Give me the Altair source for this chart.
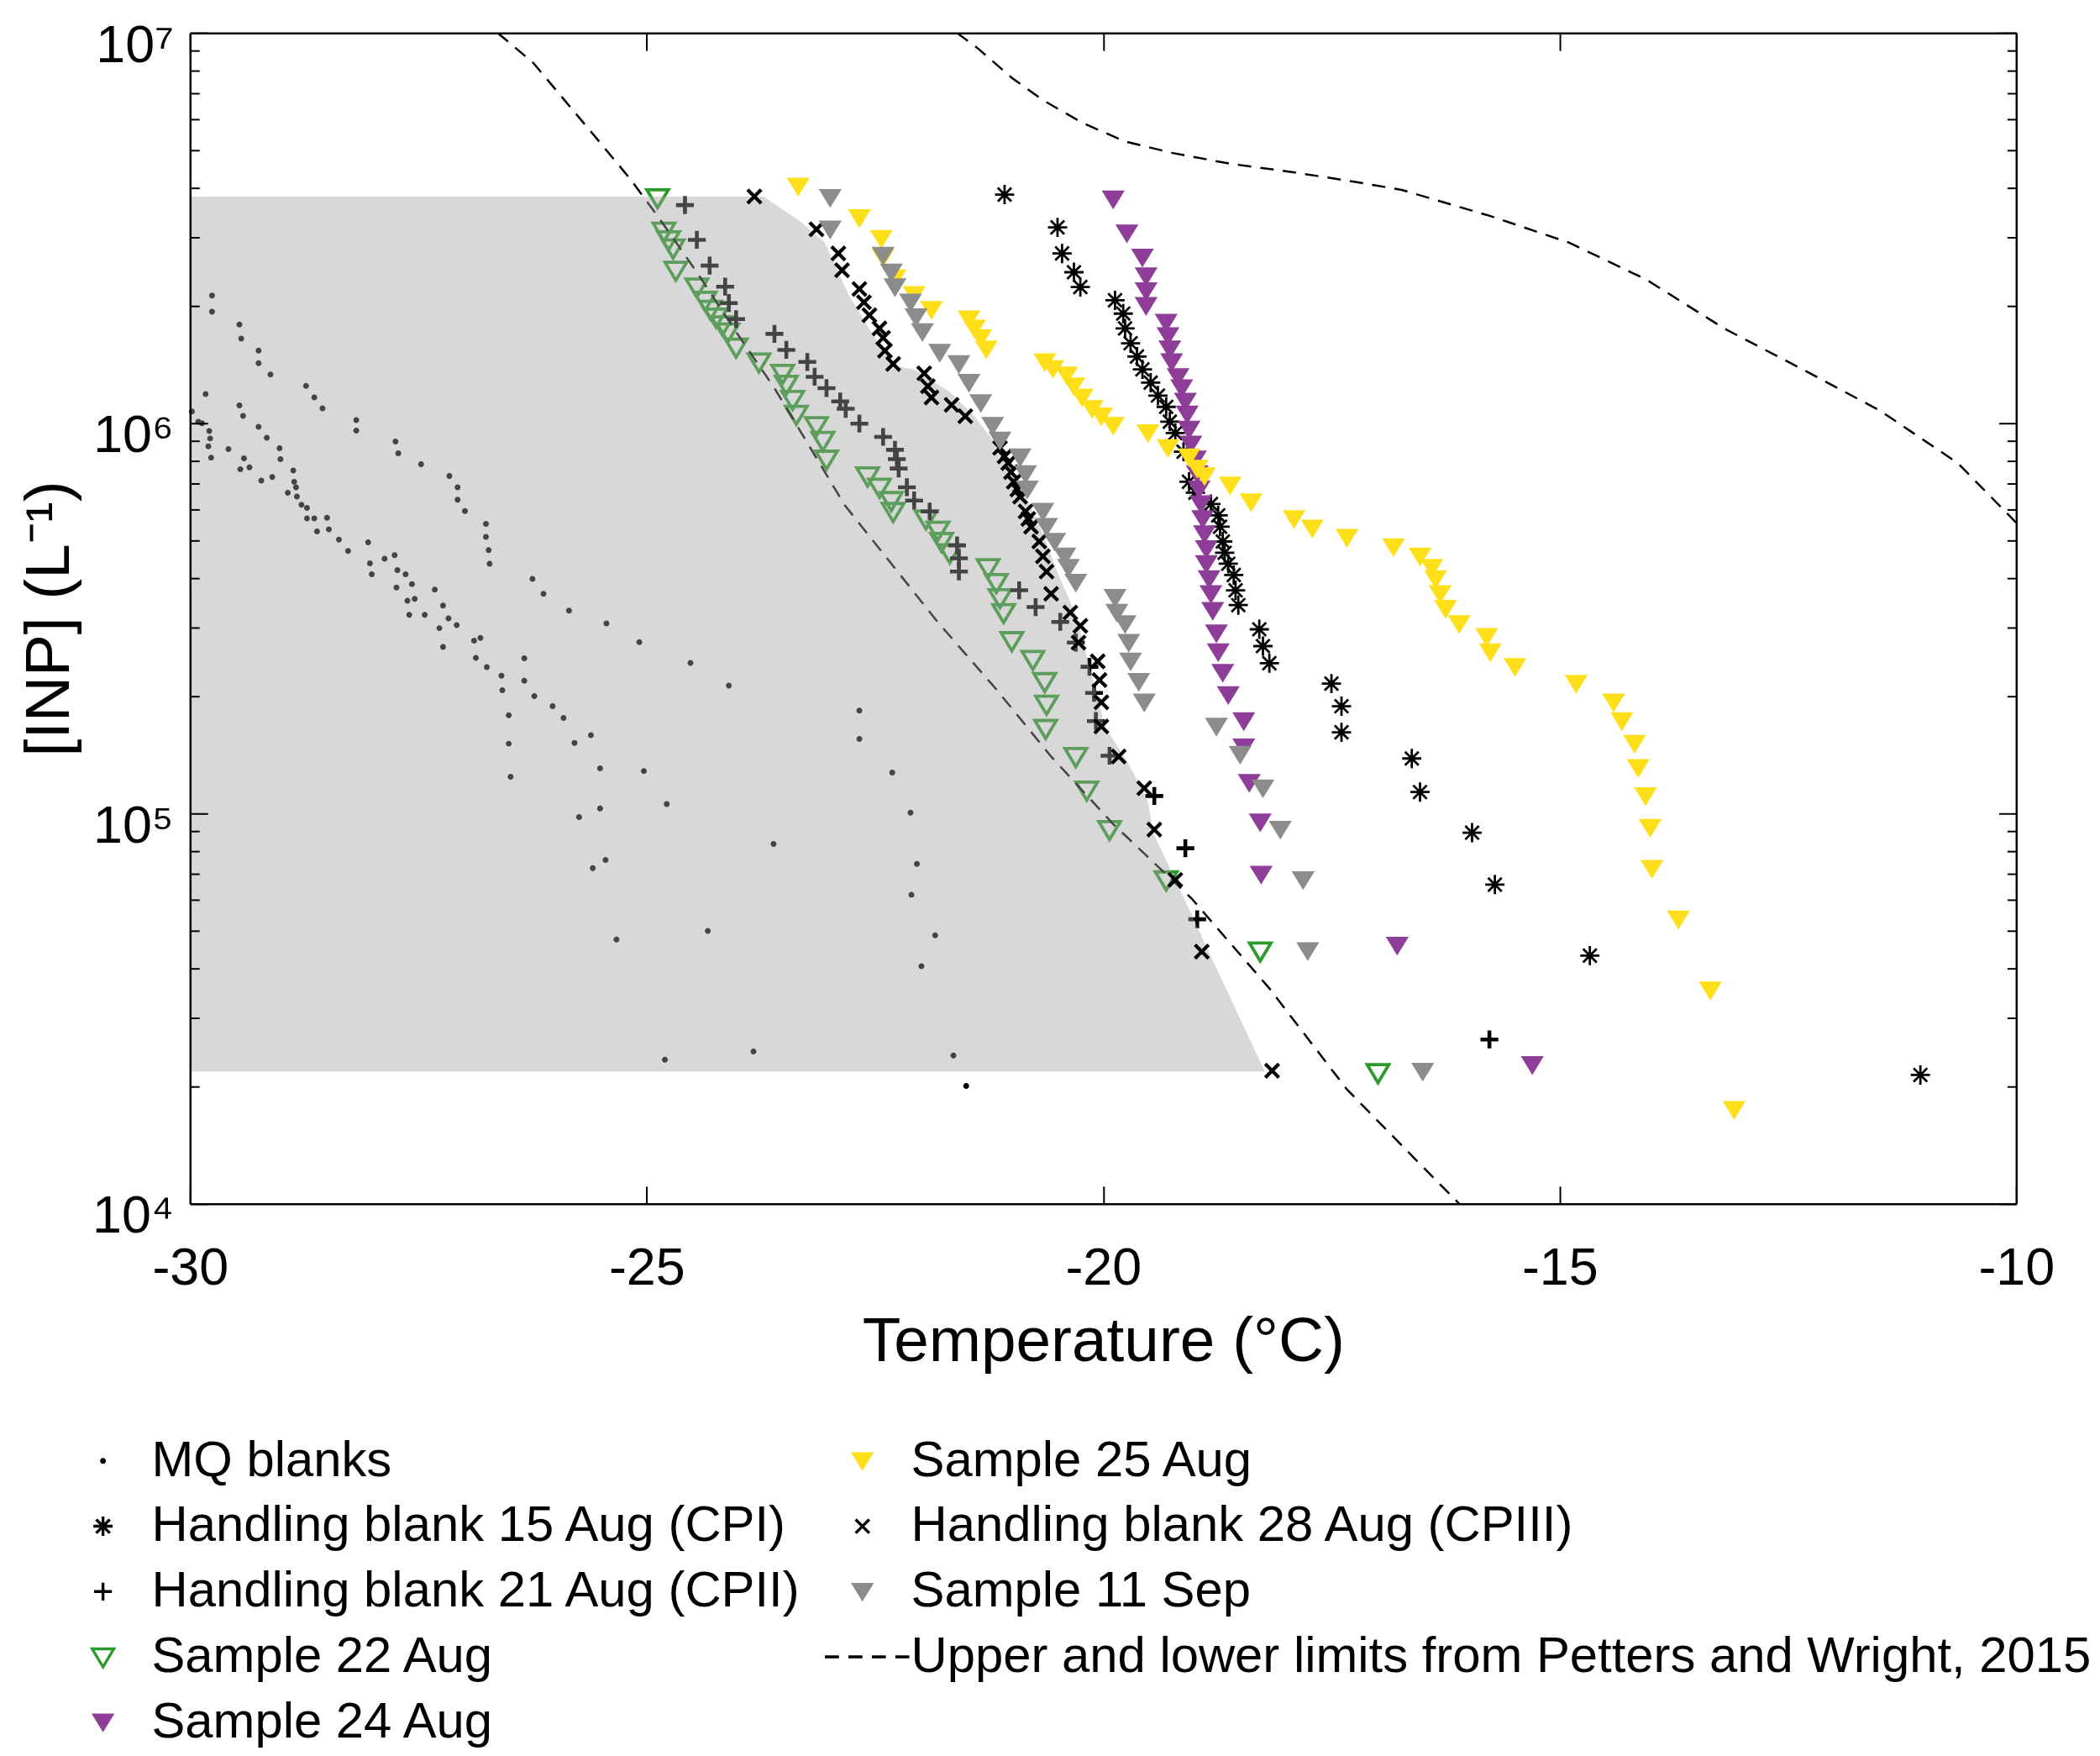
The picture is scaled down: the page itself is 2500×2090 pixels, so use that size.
import altair as alt
import numpy as np
import pandas as pd

FONT = "Liberation Sans"

# ---------------- data (temperature in degC, log10 of [INP] in L-1) ----------------
mq_t = [-29.76, -29.76, -29.46, -29.44, -29.25, -29.25, -29.12, -29.83, -28.73, -28.64, -28.55, -29.46, -29.42,
        -29.98, -29.91, -29.87, -29.79, -29.78, -29.80, -29.77, -29.58, -29.25, -29.16, -29.41, -29.35, -29.45,
        -29.22, -29.10, -29.02, -29.01, -28.87, -28.86, -28.84, -28.93, -28.83, -28.78, -28.72, -28.72, -28.64,
        -28.61, -28.50, -28.48, -28.37, -28.27, -28.18, -28.18, -27.75, -27.72, -27.47, -27.16, -27.07, -27.07,
        -26.99, -26.76, -26.76, -26.73, -26.72, -28.05, -28.03, -28.01, -27.87, -27.76, -27.73, -27.64, -27.57,
        -27.74, -27.62, -27.54, -27.60, -27.43, -27.32, -27.23, -26.25, -26.13, -25.85,
        -27.27, -27.17, -27.08, -27.23, -26.89, -26.82, -26.87, -26.75, -26.59, -26.58, -26.34, -26.34, -26.23,
        -26.03, -25.91, -26.51, -26.51, -26.49, -25.79, -25.61, -25.51, -25.51, -25.74, -25.59, -25.45, -25.44,
        -25.08, -24.52, -24.10, -25.03, -24.78, -23.61, -25.33, -24.33, -24.80, -23.83,
        -22.67, -22.67, -22.31, -22.11, -22.04, -22.10, -21.84, -21.99, -21.64, -21.50]
mq_log = [6.327, 6.286, 6.253, 6.217, 6.186, 6.154, 6.125, 6.075, 6.096, 6.066, 6.038, 6.046, 6.019,
          6.030, 6.004, 6.000, 5.980, 5.961, 5.941, 5.912, 5.934, 5.991, 5.963, 5.910, 5.887, 5.882,
          5.853, 5.862, 5.936, 5.908, 5.879, 5.850, 5.836, 5.822, 5.812, 5.791, 5.783, 5.756, 5.756,
          5.723, 5.758, 5.728, 5.702, 5.673, 6.008, 5.981, 5.953, 5.923, 5.895, 5.865, 5.836, 5.804,
          5.775, 5.742, 5.709, 5.675, 5.640, 5.695, 5.641, 5.613, 5.653, 5.662, 5.624, 5.613, 5.588,
          5.579, 5.545, 5.550, 5.509, 5.509, 5.574, 5.533, 5.601, 5.563, 5.520,
          5.475, 5.500, 5.483, 5.427, 5.443, 5.450, 5.399, 5.375, 5.353, 5.316, 5.398, 5.340, 5.301,
          5.275, 5.245, 5.252, 5.179, 5.094, 5.181, 5.201, 5.116, 5.013, 4.991, 4.860, 4.881, 5.487,
          5.439, 5.386, 5.328, 5.109, 5.024, 4.922, 4.677, 4.699, 4.369, 4.390,
          5.264, 5.191, 5.105, 5.002, 4.871, 4.792, 4.688, 4.609, 4.380, 4.302]

hb15_t = [-21.08, -20.50, -20.45, -20.32, -20.25, -19.87, -19.78, -19.76, -19.70, -19.63, -19.57, -19.48, -19.40,
          -19.31, -19.27, -19.21, -19.12, -19.06, -18.99, -18.82, -18.74, -18.72, -18.69, -18.67, -18.63, -18.57,
          -18.55, -18.52, -18.29, -18.25, -18.18, -17.50, -17.39, -17.39, -16.62, -16.53, -15.96, -15.71, -14.67,
          -11.05]
hb15_log = [6.586, 6.502, 6.435, 6.387, 6.349, 6.315, 6.281, 6.243, 6.205, 6.171, 6.138, 6.104, 6.071,
            6.042, 6.004, 5.975, 5.927, 5.850, 5.822, 5.793, 5.764, 5.735, 5.697, 5.668, 5.640, 5.611,
            5.572, 5.534, 5.472, 5.429, 5.385, 5.333, 5.275, 5.208, 5.141, 5.055, 4.951, 4.818, 4.636,
            4.330]

hb21_t = [-24.58, -24.45, -24.31, -24.14, -24.10, -24.02, -23.60, -23.47, -23.24, -23.16, -23.03, -22.88, -22.82,
          -22.67, -22.41, -22.28, -22.26, -22.24, -22.15, -22.07, -21.90, -21.60, -21.58, -21.58, -20.92, -20.74,
          -20.47, -20.30, -20.15, -20.10, -20.08, -19.93, -19.44, -19.10, -18.97, -15.77]
hb21_log = [6.559, 6.470, 6.404, 6.350, 6.308, 6.267, 6.229, 6.188, 6.157, 6.119, 6.090, 6.056, 6.037,
            5.999, 5.965, 5.932, 5.908, 5.884, 5.836, 5.802, 5.774, 5.687, 5.654, 5.620, 5.572, 5.529,
            5.491, 5.438, 5.376, 5.309, 5.237, 5.148, 5.045, 4.911, 4.729, 4.421]

s22_t = [-24.88, -24.81, -24.76, -24.71, -24.68, -24.45, -24.36, -24.30, -24.24, -24.17, -24.11, -24.02, -23.77,
         -23.51, -23.47, -23.40, -23.36, -23.14, -23.07, -23.03, -22.58, -22.45, -22.32, -22.30, -21.94, -21.81,
         -21.77, -21.68, -21.26, -21.17, -21.13, -21.09, -21.00, -20.77, -20.64, -20.62, -20.63, -20.30, -20.18,
         -19.93, -19.31, -18.28, -16.99]
s22_log = [6.578, 6.492, 6.470, 6.449, 6.392, 6.349, 6.315, 6.292, 6.272, 6.252, 6.234, 6.195, 6.157,
           6.128, 6.100, 6.061, 6.023, 5.994, 5.956, 5.908, 5.865, 5.836, 5.802, 5.774, 5.755, 5.726,
           5.697, 5.668, 5.630, 5.592, 5.553, 5.515, 5.443, 5.395, 5.338, 5.280, 5.218, 5.146, 5.060,
           4.959, 4.830, 4.648, 4.336]

s24_t = [-19.89, -19.74, -19.57, -19.53, -19.53, -19.53, -19.31, -19.29, -19.27, -19.25, -19.18, -19.14, -19.10,
         -19.08, -19.06, -19.04, -18.99, -18.97, -18.95, -18.93, -18.91, -18.89, -18.87, -18.87, -18.84, -18.82,
         -18.80, -18.76, -18.74, -18.69, -18.63, -18.46, -18.46, -18.40, -18.28, -18.27, -16.78, -15.30]
s24_log = [6.574, 6.487, 6.425, 6.377, 6.339, 6.301, 6.258, 6.224, 6.190, 6.157, 6.119, 6.090, 6.056,
           6.023, 5.984, 5.946, 5.908, 5.870, 5.831, 5.793, 5.755, 5.716, 5.678, 5.640, 5.601, 5.563,
           5.520, 5.462, 5.414, 5.361, 5.304, 5.237, 5.170, 5.079, 4.978, 4.844, 4.662, 4.356]

s25_t = [-23.34, -22.67, -22.43, -22.41, -22.28, -22.07, -21.88, -21.47, -21.41, -21.34, -21.28, -20.64, -20.55,
         -20.40, -20.32, -20.23, -20.12, -20.02, -19.89, -19.51, -19.29, -19.06, -18.97, -18.89, -18.61, -18.38,
         -17.91, -17.71, -17.33, -16.82, -16.53, -16.40, -16.36, -16.31, -16.25, -16.10, -15.80, -15.76, -15.49,
         -14.82, -14.41, -14.32, -14.18, -14.14, -14.06, -14.01, -13.99, -13.70, -13.35, -13.09]
s25_log = [6.607, 6.526, 6.473, 6.425, 6.372, 6.329, 6.291, 6.267, 6.243, 6.219, 6.190, 6.157, 6.140,
           6.123, 6.095, 6.066, 6.037, 6.018, 5.994, 5.975, 5.937, 5.913, 5.884, 5.865, 5.841, 5.798,
           5.755, 5.731, 5.707, 5.683, 5.659, 5.630, 5.601, 5.563, 5.525, 5.486, 5.453, 5.414, 5.376,
           5.333, 5.285, 5.237, 5.179, 5.117, 5.045, 4.964, 4.859, 4.729, 4.547, 4.241]

hb28_t = [-23.82, -23.14, -22.90, -22.86, -22.67, -22.62, -22.56, -22.45, -22.41, -22.39, -22.30, -21.96, -21.92,
          -21.88, -21.66, -21.51, -21.13, -21.08, -21.04, -21.01, -20.98, -20.94, -20.91, -20.85, -20.82, -20.79,
          -20.70, -20.66, -20.62, -20.57, -20.36, -20.25, -20.27, -20.06, -20.04, -20.02, -20.02, -19.83, -19.55,
          -19.44, -19.21, -18.92, -18.15]
hb28_log = [6.581, 6.497, 6.435, 6.392, 6.344, 6.310, 6.277, 6.243, 6.219, 6.186, 6.152, 6.128, 6.095,
            6.066, 6.047, 6.018, 5.937, 5.915, 5.898, 5.875, 5.850, 5.830, 5.812, 5.774, 5.755, 5.735,
            5.697, 5.659, 5.620, 5.563, 5.515, 5.481, 5.438, 5.390, 5.342, 5.285, 5.223, 5.146, 5.065,
            4.959, 4.830, 4.646, 4.341]

s11_t = [-22.99, -22.99, -22.41, -22.32, -22.28, -22.11, -22.05, -21.98, -21.79, -21.58, -21.47, -21.34, -21.21,
         -21.13, -20.91, -20.85, -20.83, -20.66, -20.62, -20.53, -20.42, -20.38, -20.30, -19.87, -19.85, -19.76,
         -19.72, -19.70, -19.61, -19.55, -18.76, -18.50, -18.25, -18.06, -17.81, -17.76, -16.50]
s11_log = [6.578, 6.497, 6.430, 6.387, 6.349, 6.310, 6.272, 6.234, 6.181, 6.152, 6.104, 6.052, 5.994,
           5.956, 5.913, 5.870, 5.831, 5.774, 5.735, 5.697, 5.659, 5.630, 5.592, 5.553, 5.515, 5.486,
           5.438, 5.390, 5.338, 5.285, 5.223, 5.151, 5.065, 4.959, 4.830, 4.648, 4.339]

# Petters and Wright (2015) limits
lower_t = [-26.63, -26.24, -25.90, -25.52, -25.18, -24.88, -24.45, -24.02, -23.60, -22.83, -21.81, -21.17,
           -20.57, -19.89, -19.03, -18.18, -17.33, -16.61, -16.10]
lower_log = [7.000, 6.923, 6.828, 6.722, 6.626, 6.531, 6.387, 6.234, 6.090, 5.790, 5.490, 5.318,
             5.146, 4.973, 4.782, 4.552, 4.293, 4.121, 4.000]
upper_t = [-21.60, -21.38, -21.00, -20.66, -20.23, -19.76, -19.25, -18.61, -17.97, -17.33, -16.73, -15.76,
           -14.90, -14.05, -13.20, -12.34, -11.49, -10.64, -10.00]
upper_log = [7.000, 6.962, 6.885, 6.828, 6.770, 6.722, 6.693, 6.665, 6.645, 6.622, 6.598, 6.531,
             6.463, 6.368, 6.243, 6.138, 6.032, 5.898, 5.745]

# shaded region (upper boundary; lower boundary is flat)
shade_t = [-30.0, -23.72, -23.31, -23.05, -22.79, -22.54, -22.28, -22.07, -21.68, -21.43, -21.17, -20.92,
           -20.66, -20.49, -20.30, -19.98, -19.72, -19.51, -19.45, -18.23]
shade_log = [6.581, 6.581, 6.516, 6.463, 6.330, 6.233, 6.147, 6.138, 6.080, 6.023, 5.946, 5.850,
             5.716, 5.611, 5.510, 5.223, 5.127, 5.030, 4.950, 4.339]
shade_bottom_log = 4.339

x_ticks = [-30, -25, -20, -15, -10]
y_major = [1e4, 1e5, 1e6, 1e7]
y_all = [k * 10 ** e for e in (4, 5, 6) for k in range(1, 10)] + [1e7]

# ---------------- series styling ----------------
N_MQ = "MQ blanks"
N_HB15 = "Handling blank 15 Aug (CPI)"
N_HB21 = "Handling blank 21 Aug (CPII)"
N_S22 = "Sample 22 Aug"
N_S24 = "Sample 24 Aug"
N_S25 = "Sample 25 Aug"
N_HB28 = "Handling blank 28 Aug (CPIII)"
N_S11 = "Sample 11 Sep"
N_PW = "Upper and lower limits from Petters and Wright, 2015"

DOT = "M-0.25,0A0.25,0.25,0,1,0,0.25,0A0.25,0.25,0,1,0,-0.25,0Z"
ASTER = "M0,-0.82L0,0.82M-0.82,0L0.82,0M-0.58,-0.58L0.58,0.58M-0.58,0.58L0.58,-0.58"
PLUS = "M0,-0.76L0,0.76M-0.76,0L0.76,0"
XS = "M-0.58,-0.58L0.58,0.58M-0.58,0.58L0.58,-0.58"
TRI = "M-0.98,-0.74L0.98,-0.74L0,0.86Z"
OTRI = "M-0.92,-0.68L0.92,-0.68L0,0.86Z"
DASH = "M-3.2,0L-2.0,0M-1.2,0L0,0M0.8,0L2.0,0M2.8,0L4.0,0"

YELLOW = "#ffdf1a"
PURPLE = "#8e3d99"
GRAY = "#8c8c8c"
GREEN = "#2b9b2b"

# legend order: first column then second column
order = [N_MQ, N_HB15, N_HB21, N_S22, N_S24, N_S25, N_HB28, N_S11, N_PW]
shape_of = {N_MQ: DOT, N_S25: TRI, N_HB15: ASTER, N_HB28: XS, N_HB21: PLUS, N_S11: TRI, N_S22: OTRI,
            N_PW: DASH, N_S24: TRI}
fill_of = {N_MQ: "black", N_S25: YELLOW, N_HB15: "transparent", N_HB28: "transparent", N_HB21: "transparent",
           N_S11: GRAY, N_S22: "transparent", N_PW: "transparent", N_S24: PURPLE}
stroke_of = {N_MQ: "transparent", N_S25: "transparent", N_HB15: "black", N_HB28: "black", N_HB21: "black",
             N_S11: "transparent", N_S22: GREEN, N_PW: "black", N_S24: "transparent"}
sw_of = {N_MQ: 0, N_S25: 0, N_HB15: 2.8, N_HB28: 4.2, N_HB21: 4.6, N_S11: 0, N_S22: 3.8, N_PW: 2.5, N_S24: 0}


def frame(name, t, lg):
    return pd.DataFrame({"T": t, "N": 10 ** np.array(lg), "series": name, "sw": sw_of[name]})


df_under = pd.concat([frame(N_MQ, mq_t, mq_log), frame(N_S22, s22_t, s22_log), frame(N_HB21, hb21_t, hb21_log)])
df_over = pd.concat([frame(N_HB15, hb15_t, hb15_log), frame(N_S24, s24_t, s24_log), frame(N_S25, s25_t, s25_log),
                     frame(N_HB28, hb28_t, hb28_log), frame(N_S11, s11_t, s11_log)])
df_lines = pd.concat([
    pd.DataFrame({"T": lower_t, "N": 10 ** np.array(lower_log), "which": "lower"}),
    pd.DataFrame({"T": upper_t, "N": 10 ** np.array(upper_log), "which": "upper"}),
])
df_shade = pd.DataFrame({"T": shade_t, "N": 10 ** np.array(shade_log), "N0": 10 ** shade_bottom_log})

W, H = 2181, 1398
xs = alt.Scale(domain=[-30, -10], nice=False, zero=False)
ys = alt.Scale(type="log", domain=[1e4, 1e7], nice=False)

legend = alt.Legend(title=None, orient="none", legendX=-134, legendY=1675, columns=2, columnPadding=19,
                    rowPadding=18, labelFont=FONT, labelFontSize=60, labelColor="black", labelOffset=28,
                    labelLimit=0, symbolSize=784, symbolStrokeWidth=3.4, padding=0, symbolOpacity=1)

shape_enc = alt.Shape("series:N", scale=alt.Scale(domain=order, range=[shape_of[s] for s in order]), legend=legend)
fill_enc = alt.Fill("series:N", scale=alt.Scale(domain=order, range=[fill_of[s] for s in order]), legend=legend)
stroke_enc = alt.Stroke("series:N", scale=alt.Scale(domain=order, range=[stroke_of[s] for s in order]), legend=legend)
sw_enc = alt.StrokeWidth("sw:Q", scale=None)

major_test = "indexof([10000, 100000, 1000000, 10000000], datum.value) >= 0"
sup_expr = ("datum.value == 10000 ? '10\u2074' : datum.value == 100000 ? '10\u2075' : "
            "datum.value == 1000000 ? '10\u2076' : datum.value == 10000000 ? '10\u2077' : ''")

ax_main_x = alt.Axis(orient="bottom", values=x_ticks, ticks=False, tickSize=0, domain=False, grid=False,
                     labelExpr="'' + datum.value", labelFont=FONT, labelFontSize=63, labelColor="black",
                     labelPadding=46, labelFlush=False, title="Temperature (\u00b0C)", titleFont=FONT,
                     titleFontSize=75, titleFontWeight="normal", titleColor="black", titlePadding=19, zindex=1)
ax_main_y = alt.Axis(orient="left", values=y_major, ticks=False, tickSize=0, domain=False, grid=False,
                     labelExpr=sup_expr, labelFont=FONT, labelFontSize=63, labelColor="black", labelPadding=20,
                     labelOffset=15, labelFlush=False, title="[INP] (L\u207b\u00b9)", titleFont=FONT,
                     titleFontSize=75, titleFontWeight="normal", titleColor="black", titlePadding=12, zindex=1)


def tick_axis(orient, offset, values, size):
    return alt.Axis(orient=orient, offset=offset, values=values, labels=False, ticks=True, tickSize=size,
                    tickWidth=2, tickColor="black", domain=True, domainColor="black", domainWidth=2.5,
                    grid=False, title=None, zindex=1)


ysize = {"condition": {"test": major_test, "value": 21}, "value": 11}

under = alt.Chart(df_under).mark_point(opacity=1, size=784).encode(
    x=alt.X("T:Q", scale=xs, axis=ax_main_x),
    y=alt.Y("N:Q", scale=ys, axis=ax_main_y),
    shape=shape_enc, fill=fill_enc, stroke=stroke_enc, strokeWidth=sw_enc,
)

lines = alt.Chart(df_lines).mark_line(color="black", strokeWidth=2.5, strokeDash=[16, 11], clip=True).encode(
    x=alt.X("T:Q", scale=xs, axis=tick_axis("top", -H, x_ticks, 21)),
    y=alt.Y("N:Q", scale=ys, axis=tick_axis("right", -W, y_all, ysize)),
    detail="which:N",
)

shade = alt.Chart(df_shade).mark_area(color="#a3a3a3", opacity=0.42).encode(
    x=alt.X("T:Q", scale=xs, axis=tick_axis("bottom", -H, x_ticks, 21)),
    y=alt.Y("N:Q", scale=ys, axis=tick_axis("left", -W, y_all, ysize)),
    y2="N0:Q",
)

over = alt.Chart(df_over).mark_point(opacity=1, size=784).encode(
    x=alt.X("T:Q", scale=xs, axis=None),
    y=alt.Y("N:Q", scale=ys, axis=None),
    shape=shape_enc, fill=fill_enc, stroke=stroke_enc, strokeWidth=sw_enc,
)

chart = alt.layer(under, lines, shade, over).resolve_axis(x="independent", y="independent").properties(
    width=W, height=H,
    autosize=alt.AutoSizeParams(type="none"),
    padding={"left": 219, "top": 28, "right": 92, "bottom": 656},
).configure_view(stroke=None).configure(background="white")

chart.save("out.html", embed_options={"renderer": "svg", "actions": False})
